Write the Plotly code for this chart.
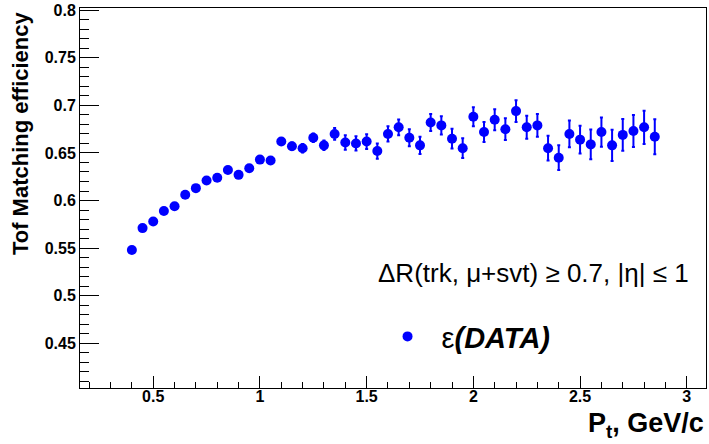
import plotly.graph_objects as go

# Transverse momentum bin centres (GeV/c)
pt = [0.40, 0.45, 0.50, 0.55, 0.60, 0.65, 0.70, 0.75, 0.80, 0.85,
      0.90, 0.95, 1.00, 1.05, 1.10, 1.15, 1.20, 1.25, 1.30, 1.35,
      1.40, 1.45, 1.50, 1.55, 1.60, 1.65, 1.70, 1.75, 1.80, 1.85,
      1.90, 1.95, 2.00, 2.05, 2.10, 2.15, 2.20, 2.25, 2.30, 2.35,
      2.40, 2.45, 2.50, 2.55, 2.60, 2.65, 2.70, 2.75, 2.80, 2.85]

# TOF matching efficiency per bin
eff = [0.548, 0.571, 0.578, 0.589, 0.594, 0.606, 0.613, 0.621, 0.624, 0.632,
       0.627, 0.634, 0.643, 0.642, 0.662, 0.657, 0.655, 0.666, 0.658, 0.670,
       0.661, 0.660, 0.662, 0.652, 0.670, 0.677, 0.666, 0.658, 0.682, 0.679,
       0.665, 0.655, 0.688, 0.672, 0.685, 0.675, 0.694, 0.677, 0.679, 0.655,
       0.645, 0.670, 0.664, 0.659, 0.672, 0.658, 0.669, 0.673, 0.677, 0.667]

# Statistical uncertainty per bin
err = [0.0015, 0.0015, 0.0015, 0.0015, 0.0016, 0.0016, 0.0017, 0.0017, 0.0018, 0.0018,
       0.0019, 0.0019, 0.0020, 0.0020, 0.0035, 0.0040, 0.0045, 0.0045, 0.0050, 0.0062,
       0.0075, 0.0075, 0.0078, 0.0080, 0.0080, 0.0083, 0.0090, 0.0090, 0.0090, 0.0095,
       0.0104, 0.0104, 0.0100, 0.0106, 0.0110, 0.0114, 0.0114, 0.0120, 0.0120, 0.0130,
       0.0130, 0.0140, 0.0145, 0.0156, 0.0154, 0.0165, 0.0166, 0.0168, 0.0175, 0.0184]

# Axis tick positions and labels
x_ticks = [0.5, 1.0, 1.5, 2.0, 2.5, 3.0]
x_labels = ["0.5", "1", "1.5", "2", "2.5", "3"]
y_ticks = [0.45, 0.50, 0.55, 0.60, 0.65, 0.70, 0.75, 0.80]
y_labels = ["0.45", "0.5", "0.55", "0.6", "0.65", "0.7", "0.75", "0.8"]

FONT = "Liberation Sans, Arial, Helvetica, sans-serif"
BLUE = "#0000ff"

fig = go.Figure()
fig.add_trace(go.Scatter(
    x=pt, y=eff, mode="markers",
    name="ε<b><i>(DATA)</i></b>",
    marker=dict(symbol="circle", size=10, color=BLUE),
    error_y=dict(type="data", array=err, visible=True,
                 color=BLUE, thickness=2, width=1.5),
))

W, H = 709, 444
L, R, T, B = 80, 2, 4, 56
pw, ph = W - L - R, H - T - B


def px_x(x):
    return (x - L) / pw


def px_y(y):
    return (H - B - y) / ph


tickfont = dict(family=FONT, size=16, color="black")

fig.update_layout(
    width=W, height=H,
    margin=dict(l=L, r=R, t=T, b=B),
    paper_bgcolor="white", plot_bgcolor="white",
    font=dict(family=FONT, color="black"),
    showlegend=True,
    legend=dict(x=px_x(374), y=px_y(336), xanchor="left", yanchor="middle",
                itemwidth=58,
                bgcolor="rgba(0,0,0,0)", borderwidth=0,
                font=dict(family=FONT, size=29, color="black")),
    xaxis=dict(
        range=[0.157, 3.09], showgrid=False, zeroline=False,
        showline=True, linecolor="black", linewidth=1, mirror=True,
        ticks="inside", ticklen=12, tickwidth=1, tickcolor="black",
        tickmode="array", tickvals=x_ticks,
        ticktext=["<b>%s</b>" % s for s in x_labels],
        ticklabeloverflow="allow", ticklabelstandoff=-6,
        minor=dict(dtick=0.1, tick0=0, ticks="inside", ticklen=6,
                   tickcolor="black", tickwidth=1),
        tickfont=tickfont,
    ),
    yaxis=dict(
        range=[0.4029, 0.8024], showgrid=False, zeroline=False,
        showline=True, linecolor="black", linewidth=1, mirror=True,
        ticks="inside", ticklen=19, tickwidth=1, tickcolor="black",
        tickmode="array", tickvals=y_ticks,
        ticktext=["<b>%s</b>" % s for s in y_labels],
        ticklabeloverflow="allow",
        minor=dict(dtick=0.01, tick0=0, ticks="inside", ticklen=9,
                   tickcolor="black", tickwidth=1),
        tickfont=tickfont,
    ),
)

# Axis titles, aligned to the far ends of the axes
fig.add_annotation(
    text="<b>Tof Matching efficiency</b>", textangle=-90,
    xref="paper", yref="paper", x=px_x(21), y=px_y(5),
    xanchor="center", yanchor="top", showarrow=False,
    font=dict(family=FONT, size=22, color="black"),
)
fig.add_annotation(
    text="<b>P<sub>t</sub>, GeV/c</b>",
    xref="paper", yref="paper", x=px_x(707), y=px_y(445),
    xanchor="right", yanchor="bottom", showarrow=False,
    font=dict(family=FONT, size=27, color="black"),
)

# Selection cuts label
fig.add_annotation(
    text="ΔR(trk, μ+svt) ≥ 0.7, |η| ≤ 1",
    xref="paper", yref="paper", x=px_x(376), y=px_y(272),
    xanchor="left", yanchor="middle", showarrow=False,
    font=dict(family=FONT, size=26, color="black"),
)

fig.write_html("out.html")
